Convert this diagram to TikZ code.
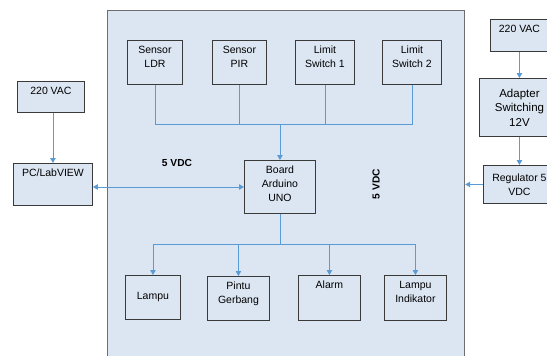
\documentclass[tikz,border=0pt]{standalone}
\usepackage{fontspec}
\setmainfont{Liberation Sans}
\usetikzlibrary{arrows.meta}
\definecolor{boxfill}{HTML}{DCE6F2}
\definecolor{boxline}{HTML}{3A3A3A}
\definecolor{bigline}{HTML}{6E6E6E}
\definecolor{conn}{HTML}{5B9BD5}
\newcommand{\tb}[3]{\parbox[c][#2pt][t]{#1pt}{\centering\rule{0pt}{13.5pt}#3}}
\newcommand{\cb}[3]{\parbox[c][#2pt][c]{#1pt}{\centering #3}}
\tikzset{
  box/.style={draw=boxline, fill=boxfill, line width=0.9pt, inner sep=0pt, anchor=north west, font=\fontsize{10.5}{14}\selectfont},
  bigbox/.style={draw=bigline, fill=boxfill, line width=1.2pt, inner sep=0pt, anchor=north west},
  wire/.style={draw=conn, line width=0.9pt},
  arr/.style={wire, -{Triangle[width=5.5pt,length=5pt]}},
  darr/.style={wire, {Triangle[width=5.5pt,length=5pt]}-{Triangle[width=5.5pt,length=5pt]}},
  lbl/.style={font=\fontsize{10.2}{12}\selectfont\bfseries, inner sep=0pt}
}
\begin{document}
\begin{tikzpicture}[x=1pt,y=-1pt]
\useasboundingbox (0,0) rectangle (547,356);
\clip (0,0) rectangle (547,356);
% main enclosure
\node[bigbox, minimum width=357pt, minimum height=370pt] (main) at (107,10) {};
% sensors
\node[box] (ldr) at (127,40) {\tb{55}{44}{Sensor\\LDR}};
\node[box] (pir) at (212,40) {\tb{54}{44}{Sensor\\PIR}};
\node[box] (ls1) at (295,40) {\tb{59}{44}{Limit\\Switch 1}};
\node[box] (ls2) at (382,40) {\tb{59}{44}{Limit\\Switch 2}};
% board
\node[box] (board) at (244,160) {\tb{71}{53}{Board\\Arduino\\UNO}};
% left side
\node[box] (vacl) at (17,81) {\tb{67}{31}{220 VAC}};
\node[box] (pc) at (13,163) {\tb{79}{42}{PC/LabVIEW}};
% right side
\node[box] (vacr) at (490,19) {\tb{58}{32}{220 VAC}};
\node[box, font=\fontsize{11.5}{14.5}\selectfont] (adapter) at (479,78) {\cb{80}{58}{Adapter\\Switching\\12V}};
\node[box] (reg) at (483,165) {\cb{72}{38}{Regulator 5\\VDC}};
% outputs
\node[box] (lampu) at (125,275) {\cb{55}{44}{Lampu}};
\node[box] (pintu) at (207,276) {\tb{62}{44}{Pintu\\Gerbang}};
\node[box] (alarm) at (298,275) {\tb{62}{45}{Alarm}};
\node[box] (lind) at (384,275) {\tb{62}{45}{Lampu\\Indikator}};
% labels
\node[lbl] (v1) at (177,163) {5 VDC};
\node[lbl, rotate=90] (v2) at (376,184) {5 VDC};
% input bus
\coordinate (busj) at (board.north |- 0,124);
\draw[wire] (ldr.south) |- (ls2.south |- busj) -- (ls2.south);
\draw[wire] (pir.south) -- (pir.south |- busj);
\draw[wire] (ls1.south) -- (ls1.south |- busj);
\draw[arr] (busj) -- (board.north);
% output bus
\coordinate (obus) at (board.south |- 0,244);
\draw[wire] (board.south) -- (obus);
\draw[wire] (lampu.north |- obus) -- (lind.north |- obus);
\draw[arr] (lampu.north |- obus) -- (lampu.north);
\draw[arr] (pintu.north |- obus) -- (pintu.north);
\draw[arr] (alarm.north |- obus) -- (alarm.north);
\draw[arr] (lind.north |- obus) -- (lind.north);
% left connections
\draw[arr] (vacl.south -| pc.north) -- (pc.north);
\coordinate (pcr) at (pc.east |- 0,187);
\draw[darr] (pcr) -- (board.west |- pcr);
% right connections
\draw[arr] (vacr.south -| adapter.north) -- (adapter.north);
\draw[arr] (adapter.south) -- (adapter.south |- reg.north);
\draw[arr] (reg.west) -- (reg.west -| main.east);
\end{tikzpicture}
\end{document}
